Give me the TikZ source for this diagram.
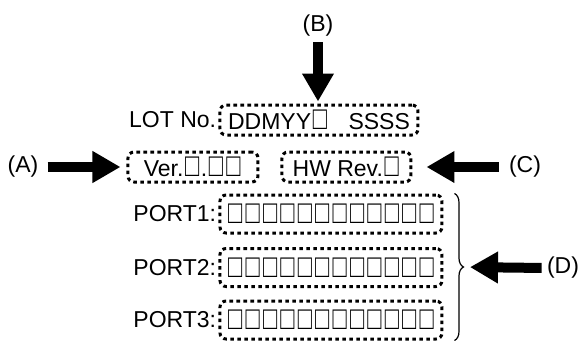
\documentclass[tikz,border=0pt]{standalone}
\usepackage{fontspec}
\setmainfont{Liberation Sans}
\usetikzlibrary{arrows.meta, positioning, decorations.pathreplacing}

\newcommand{\sq}{\makebox[8.7pt]{\scalebox{1.02}[1.42]{□}}}

\begin{document}
\begin{tikzpicture}[
    x=0.5pt, y=-0.5pt,
    every node/.style={font=\fontsize{11.5}{13}\selectfont, inner sep=1pt},
    dotbox/.style={draw, line width=1.5pt, dash pattern=on 1.8pt off 1.7pt, rounded corners=3pt, minimum height=15pt, inner sep=2pt},
    portbox/.style={dotbox, minimum width=111pt, minimum height=19pt},
    bigarrow/.style={-{Triangle[length=14pt, width=15pt]}, line width=5pt}
]
\useasboundingbox (0,0) rectangle (586,343);

% Lot number
\node[dotbox, minimum width=99pt] (lot) at (319,120) {DDMYY\sq\hspace{10pt}SSSS};
\node[left=0pt of lot] (lotlbl) {LOT No.};

% Versions
\node[dotbox, minimum width=65pt] (ver) at (193,167) {Ver.\sq.\sq\sq};
\node[dotbox, minimum width=64.5pt] (hw) at (346.5,167) {HW Rev.\sq};

% Ports
\node[portbox] (port1) at (331,214) {\sq\sq\sq\sq\sq\sq\sq\sq\sq\sq\sq\sq};
\node[portbox] (port2) at (331,267.5) {\sq\sq\sq\sq\sq\sq\sq\sq\sq\sq\sq\sq};
\node[portbox] (port3) at (331,320) {\sq\sq\sq\sq\sq\sq\sq\sq\sq\sq\sq\sq};
\node[left=0pt of port1] (port1lbl) {PORT1:};
\node[left=0pt of port2] (port2lbl) {PORT2:};
\node[left=0pt of port3] (port3lbl) {PORT3:};

% Brace over the ports
\draw[decorate, decoration={brace, amplitude=4.5pt}, line width=0.6pt]
    ([xshift=5.5pt]port1.north east) -- ([xshift=5.5pt]port3.south east);
\coordinate (bracetip) at (462,267);

% Labels and arrows
\node (lblA) at (23,167) {(A)};
\node (lblB) at (318,26) {(B)};
\node (lblC) at (525,167) {(C)};
\node (lblD) at (563,268) {(D)};

\draw[bigarrow, shorten <=3.5pt, shorten >=3pt] (lblA.east) -- (ver.west);
\draw[bigarrow, shorten <=1.5pt, shorten >=1pt] (lblB.south) -- (lblB.south |- lot.north);
\draw[bigarrow, shorten <=4pt, shorten >=7pt] (lblC.west) -- (hw.east);
\draw[bigarrow, shorten <=1.5pt, shorten >=4pt] (lblD.west) -- (bracetip);

\end{tikzpicture}
\end{document}
